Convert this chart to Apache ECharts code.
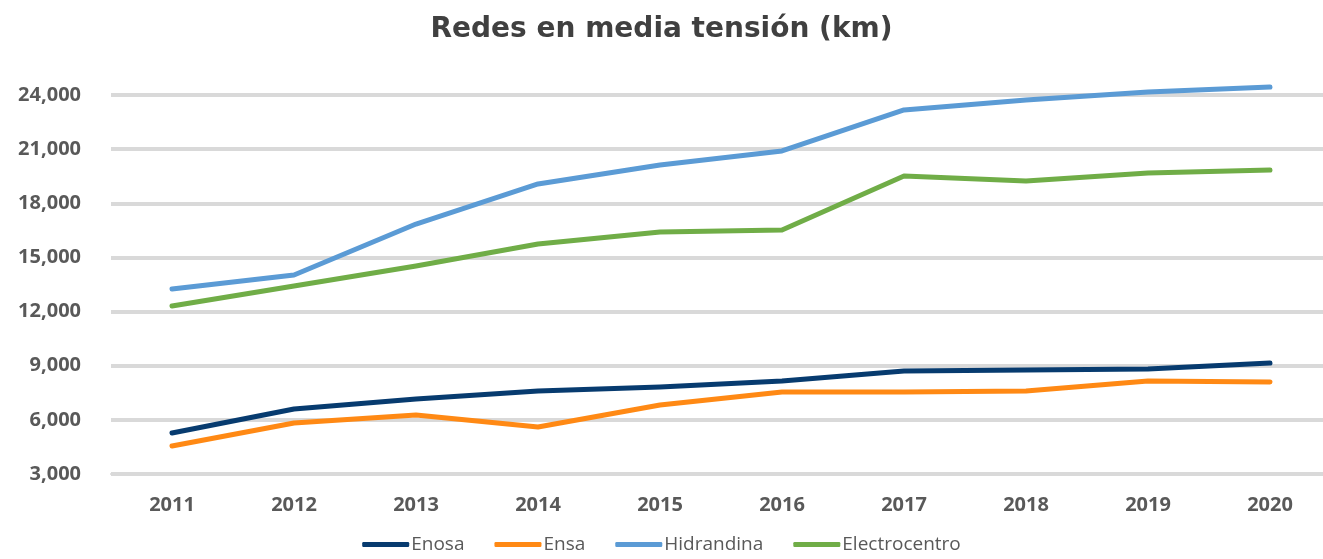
<!DOCTYPE html>
<html>
<head>
<meta charset="utf-8">
<script src="https://cdn.jsdelivr.net/npm/echarts@6/dist/echarts.min.js"></script>
<style>
  html, body { margin: 0; padding: 0; background: #fff; }
  #main { width: 1323px; height: 559px; }
</style>
</head>
<body>
<div id="main"></div>
<script>
// datos
var years = ['2011', '2012', '2013', '2014', '2015', '2016', '2017', '2018', '2019', '2020'];
var enosa = [5270, 6600, 7160, 7600, 7820, 8150, 8710, 8760, 8820, 9150];
var ensa = [4550, 5830, 6270, 5600, 6820, 7540, 7540, 7600, 8150, 8100];
var hidrandina = [13250, 14030, 16850, 19070, 20120, 20900, 23170, 23720, 24170, 24440];
var electrocentro = [12310, 13420, 14530, 15740, 16410, 16520, 19510, 19240, 19680, 19840];

var myChart = echarts.init(document.getElementById('main'));

function linea(nombre, datos, color) {
  return {
    name: nombre,
    type: 'line',
    data: datos,
    symbol: 'none',
    clip: false,
    lineStyle: { width: 5, color: color, cap: 'round', join: 'round' },
    itemStyle: { color: color }
  };
}

var option = {
  animation: false,
  title: {
    text: 'Redes en media tensión (km)',
    left: 'center',
    top: 11,
    textStyle: { fontFamily: 'DejaVu Sans', fontWeight: 'bold', fontSize: 28, color: '#404040' }
  },
  legend: {
    bottom: 0,
    left: 'center',
    icon: 'roundRect',
    itemWidth: 47,
    itemHeight: 5,
    itemGap: 30,
    textStyle: { fontFamily: 'Open Sans', fontSize: 19, color: '#595959', padding: [0, 0, 0, -3] },
    data: ['Enosa', 'Ensa', 'Hidrandina', 'Electrocentro']
  },
  grid: { left: 111, top: 95, width: 1220, height: 379, outerBoundsMode: 'none' },
  xAxis: {
    type: 'category',
    data: years,
    boundaryGap: true,
    axisLine: { show: true, lineStyle: { color: '#d9d9d9', width: 2 } },
    axisTick: { show: false },
    axisLabel: { fontFamily: 'Open Sans', fontWeight: 'bold', fontSize: 20, color: '#595959', margin: 21 }
  },
  yAxis: {
    type: 'value',
    min: 3000,
    max: 24000,
    interval: 3000,
    axisLine: { show: false },
    axisTick: { show: false },
    splitLine: { lineStyle: { color: '#d9d9d9', width: 4 } },
    axisLabel: {
      fontFamily: 'Open Sans', fontWeight: 'bold', fontSize: 20, color: '#595959', margin: 30,
      formatter: function (v) { return v.toLocaleString('en-US'); }
    }
  },
  series: [
    linea('Enosa', enosa, '#073b6f'),
    linea('Ensa', ensa, '#ff8914'),
    linea('Hidrandina', hidrandina, '#5b9bd5'),
    linea('Electrocentro', electrocentro, '#70ad47')
  ]
};

myChart.setOption(option);
</script>
</body>
</html>
